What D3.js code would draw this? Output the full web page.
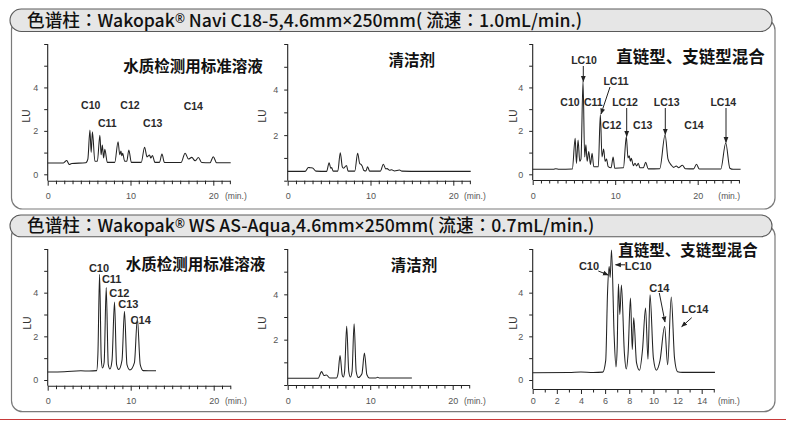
<!DOCTYPE html>
<html><head><meta charset="utf-8">
<script src="https://cdn.jsdelivr.net/npm/d3@7"></script>
<style>body{margin:0;background:#fff} svg{display:block}</style>
</head><body>
<svg id="c" width="786" height="422"></svg>
<script>
// ---------------- DATA ----------------
const headerTopText = "色谱柱：Wakopak® Navi C18-5,4.6mm×250mm( 流速：1.0mL/min.)";
const headerBottomText = "色谱柱：Wakopak® WS AS-Aqua,4.6mm×250mm( 流速：0.7mL/min.)";
const sampleTitles = ["水质检测用标准溶液", "清洁剂", "直链型、支链型混合"];
const yAxisTitle = "LU";
const xUnit = "(min.)";
const yTickLabels = [0, 2, 4];
const yTickLabelsNoZero = [2, 4];
const xTickLabels20 = [0, 10, 20];
const xTickLabels14 = [0, 2, 4, 6, 8, 10, 12, 14];

// chromatogram traces: [time (min), signal (LU)]
const naviStandard = [[0,0.52],[1.9,0.52],[2.3,0.64],[2.6,0.45],[2.9,0.5],[4.6,0.53],[4.85,0.7],[5.1,2.04],[5.25,1.0],[5.4,1.96],[5.7,0.6],[6.0,0.6],[6.3,1.8],[6.45,0.9],[6.6,1.35],[6.75,0.75],[6.9,1.15],[7.2,0.55],[8.1,0.55],[8.5,1.5],[8.7,0.9],[8.85,1.07],[8.95,0.85],[9.05,0.97],[9.3,0.6],[9.55,0.6],[9.8,1.12],[10.1,0.55],[11.3,0.55],[11.7,1.25],[12.0,0.8],[12.3,0.89],[12.45,0.75],[12.65,0.87],[12.95,0.55],[13.5,0.55],[13.8,0.93],[14.1,0.54],[16.1,0.54],[16.6,0.97],[17.0,0.7],[17.4,0.78],[17.8,0.62],[18.2,0.77],[18.6,0.54],[19.6,0.53],[20.0,0.81],[20.4,0.53],[22.1,0.53]];
const naviDetergent = [[0,0.41],[2.1,0.41],[2.5,0.58],[2.7,0.57],[3.0,0.56],[3.4,0.42],[4.7,0.41],[5.0,0.79],[5.2,0.55],[5.3,0.58],[5.5,0.42],[6.05,0.42],[6.35,1.23],[6.6,0.6],[6.75,0.55],[7.1,0.67],[7.3,0.42],[8.1,0.42],[8.45,1.2],[8.7,0.75],[8.85,0.72],[9.0,0.64],[9.2,0.45],[9.45,0.43],[9.65,0.61],[9.9,0.42],[11.2,0.42],[11.55,0.72],[11.85,0.52],[12.0,0.53],[12.3,0.46],[12.55,0.48],[12.9,0.43],[13.5,0.47],[13.8,0.42],[16,0.41],[22.1,0.41]];
const naviMixed = [[0,0.23],[2.5,0.23],[2.8,0.26],[3.2,0.23],[4.8,0.24],[5.15,1.66],[5.3,0.5],[5.5,1.58],[5.7,0.6],[5.85,0.7],[6.1,4.28],[6.3,0.8],[6.45,1.36],[6.6,0.6],[6.8,1.05],[7.0,0.45],[7.2,0.97],[7.4,0.35],[7.95,0.35],[8.2,2.75],[8.4,0.8],[8.6,1.16],[8.78,0.6],[8.95,0.7],[9.15,0.35],[9.5,0.3],[9.75,0.79],[9.95,0.28],[11.0,0.3],[11.35,1.74],[11.55,0.75],[11.7,0.85],[11.85,0.6],[11.95,0.74],[12.2,0.4],[12.4,0.51],[12.6,0.38],[12.8,0.51],[13.0,0.3],[13.4,0.3],[13.7,0.55],[14.0,0.25],[15.4,0.26],[16.05,1.82],[16.4,0.7],[16.8,0.42],[17.1,0.32],[17.4,0.38],[17.7,0.3],[18.15,0.42],[18.5,0.26],[19.5,0.25],[19.85,0.46],[20.2,0.24],[22.8,0.24],[23.4,1.44],[23.9,0.28],[24.3,0.23],[25.2,0.23]];
const aquaStandard = [[0,0.37],[2,0.38],[4,0.42],[5,0.41],[5.9,0.43],[6.05,1.2],[6.25,4.84],[6.45,1.0],[6.6,0.55],[6.8,0.8],[7.05,4.23],[7.3,0.7],[7.5,0.5],[7.75,0.9],[8.05,3.57],[8.3,0.7],[8.55,0.48],[8.95,0.9],[9.25,3.15],[9.55,0.7],[9.9,0.46],[10.45,0.8],[10.8,2.82],[11.15,0.7],[11.5,0.43],[13.05,0.42]];
const aquaDetergent = [[0,0.3],[3.7,0.3],[4.1,0.59],[4.4,0.42],[4.7,0.44],[5.1,0.31],[5.9,0.31],[6.1,0.5],[6.35,1.3],[6.6,0.45],[6.75,0.35],[6.9,0.6],[7.15,2.59],[7.4,0.6],[7.6,0.35],[7.8,0.6],[8.05,2.7],[8.3,0.6],[8.55,0.33],[9.0,0.5],[9.3,1.41],[9.6,0.45],[9.9,0.31],[10.7,0.31],[10.9,0.34],[11.1,0.31],[15.05,0.31]];
const aquaMixed = [[0,0.33],[3,0.34],[4,0.37],[5,0.34],[5.8,0.36],[6.05,0.9],[6.2,4.0],[6.33,5.2],[6.42,4.7],[6.53,5.95],[6.75,2.0],[6.9,0.6],[7.0,1.5],[7.1,4.4],[7.22,3.0],[7.35,4.35],[7.6,1.2],[7.75,0.5],[7.9,1.2],[8.1,3.75],[8.25,1.4],[8.37,2.85],[8.6,0.8],[8.85,0.45],[9.1,1.4],[9.35,3.3],[9.55,0.95],[9.72,3.9],[10.0,1.0],[10.25,0.45],[10.55,0.9],[10.93,2.45],[11.18,0.7],[11.48,3.8],[11.75,1.0],[12.0,0.38],[12.4,0.35],[15.1,0.35]];

// peak label texts
const naviStdLabels = ["C10","C11","C12","C13","C14"];
const naviMixLabels = ["LC10","LC11","C10","C11","LC12","LC13","LC14","C12","C13","C14"];
const aquaStdLabels = ["C10","C11","C12","C13","C14"];
const aquaMixLabels = ["C10","LC10","C14","LC14"];

// ---------------- LAYOUT ----------------
const svg = d3.select("#c");
const CJK = "'Noto Sans CJK SC', 'Noto Sans CJK JP', sans-serif";
const ARIAL = "'Liberation Sans', Arial, sans-serif";

svg.append("defs").append("marker")
  .attr("id","ah").attr("viewBox","0 0 10 10").attr("refX",9).attr("refY",5)
  .attr("markerWidth",6).attr("markerHeight",6).attr("orient","auto-start-reverse")
  .attr("markerUnits","userSpaceOnUse")
  .append("path").attr("d","M0,1 L10,5 L0,9 Z").attr("fill","#222");

// frames
function frame(pillY, pillH, boxBottom, text) {
  svg.append("rect").attr("x",11.5).attr("y",pillY+10).attr("width",763.5)
    .attr("height",boxBottom-pillY-10).attr("rx",11)
    .attr("fill","#fff").attr("stroke","#7a7a7a").attr("stroke-width",1.2);
  svg.append("rect").attr("x",10).attr("y",pillY).attr("width",762).attr("height",pillH)
    .attr("rx",pillH/2).attr("fill","#e6e6e6").attr("stroke","#5a5a5a").attr("stroke-width",1.1);
  const t = svg.append("text").attr("x",27).attr("y",pillY+pillH/2)
    .attr("dy","0.36em").attr("font-family",CJK).attr("font-weight",500)
    .attr("font-size",17).attr("fill","#111");
  const parts = text.split(/(：|®|×)/);
  parts.forEach(p => {
    if (p === "®") t.append("tspan").attr("baseline-shift","35%").attr("font-size",12)
      .attr("font-family","'Noto Sans', sans-serif").text("®");
    else if (p === "：") t.append("tspan").attr("font-family","'Noto Sans CJK JP', sans-serif").text("：");
    else if (p === "×") t.append("tspan").attr("font-family","'Noto Sans', sans-serif").text("×");
    else t.append("tspan").text(p);
  });
  return t;
}
const h1 = frame(9, 22.5, 209, headerTopText);
const h2 = frame(215, 21.7, 411.7, headerBottomText);
// fit header text width to the reference
const w1 = h1.node().getComputedTextLength();
const fs = 17 * 556 / w1;
h1.attr("font-size", fs); h2.attr("font-size", fs);

svg.append("line").attr("x1",0).attr("x2",786).attr("y1",419.5).attr("y2",419.5)
  .attr("stroke","#c83a3a").attr("stroke-width",1.2);

const panels = [
  {trace: naviStandard, px0:47.7, k:8.28, xMax:22, py0:174.3, py6:44, axisY:180.7, xLabelY:196, yLabels:yTickLabels, xLabels:xTickLabels20, minX:225, luX:26.7, luY:116},
  {trace: naviDetergent, px0:287.7, k:8.28, xMax:22, py0:180.7, py6:44, axisY:180.7, xLabelY:196, yLabels:yTickLabelsNoZero, xLabels:xTickLabels20, minX:464, luX:262, luY:116},
  {trace: naviMixed, px0:532.7, k:8.25, xMax:25, py0:174.3, py6:44, axisY:180, xLabelY:196, yLabels:yTickLabels, xLabels:xTickLabels20, minX:718.3, luX:513, luY:116},
  {trace: aquaStandard, px0:47.7, k:8.3, xMax:22, py0:380, py6:249, axisY:385.7, xLabelY:401, yLabels:yTickLabels, xLabels:xTickLabels20, minX:225, luX:27, luY:323},
  {trace: aquaDetergent, px0:287.7, k:8.25, xMax:22, py0:385, py6:249, axisY:385, xLabelY:401, yLabels:yTickLabelsNoZero, xLabels:xTickLabels20, minX:464, luX:262, luY:323},
  {trace: aquaMixed, px0:532.7, k:12.07, xMax:15, py0:380, py6:249, axisY:389, xLabelY:401, yLabels:yTickLabels, xLabels:xTickLabels14, minX:718, luX:513, luY:323}
];

panels.forEach(p => {
  const x = d3.scaleLinear().domain([0, p.xMax]).range([p.px0, p.px0 + p.k * p.xMax]);
  const y = d3.scaleLinear().domain([0, 6]).range([p.py0, p.py6]);
  const g = svg.append("g");

  // x axis
  const xa = g.append("g").attr("transform",`translate(0,${p.axisY})`)
    .call(d3.axisBottom(x).tickValues(d3.range(0, p.xMax + 0.001, 1))
      .tickSize(3.5).tickSizeOuter(0)
      .tickPadding(p.xLabelY - p.axisY - 3.5 - 3.4)
      .tickFormat(d => p.xLabels.includes(d) ? d : ""));
  xa.select(".domain").attr("stroke","#222").attr("stroke-width",1.1);
  xa.selectAll(".tick line").attr("stroke","#222").attr("stroke-width",1)
    .filter(d => p.xLabels.includes(d)).attr("y2",5);
  xa.selectAll(".tick text").attr("font-family",ARIAL).attr("font-size",9).attr("fill","#555");

  // y axis
  const ya = g.append("g").attr("transform",`translate(${p.px0},0)`)
    .call(d3.axisLeft(y).tickValues(d3.range(0, 7, 1)).tickSize(3.5).tickPadding(6)
      .tickFormat(d => p.yLabels.includes(d) ? d : ""));
  ya.select(".domain").remove();
  ya.selectAll(".tick line").attr("stroke","#222").attr("stroke-width",1);
  ya.selectAll(".tick text").attr("font-family",ARIAL).attr("font-size",9).attr("fill","#555");
  g.append("line").attr("x1",p.px0).attr("x2",p.px0).attr("y1",y(6)).attr("y2",p.axisY)
    .attr("stroke","#222").attr("stroke-width",1.1);

  g.append("text").attr("transform",`translate(${p.luX},${p.luY}) rotate(-90)`)
    .attr("text-anchor","middle").attr("dy","0.35em")
    .attr("font-family",ARIAL).attr("font-size",10).attr("fill","#333").text(yAxisTitle);
  g.append("text").attr("x",p.minX).attr("y",p.xLabelY).attr("dy","0.35em")
    .attr("font-family",ARIAL).attr("font-size",8.5).attr("fill","#555").text(xUnit);

  const line = d3.line().x(d => x(d[0])).y(d => y(d[1])).curve(d3.curveMonotoneX);
  g.append("path").datum(p.trace).attr("d",line).attr("fill","none")
    .attr("stroke","#222").attr("stroke-width",1.05).attr("stroke-linejoin","round");
});

// ---------------- ANNOTATIONS ----------------
function title(txt, cx, cy, size) {
  svg.append("text").attr("x",cx).attr("y",cy).attr("dy","0.36em").attr("text-anchor","middle")
    .attr("font-family",CJK).attr("font-weight","bold").attr("font-size",size).attr("fill","#111").text(txt);
}
title(sampleTitles[0], 193, 66.7, 15.5);
title(sampleTitles[1], 411.7, 60, 15.5);
title(sampleTitles[2], 690.5, 56.7, 16.5);
title(sampleTitles[0], 195.5, 264.3, 15.5);
title(sampleTitles[1], 414, 265.7, 15.5);
title(sampleTitles[2], 688, 250, 15.5);

function labels(list, pos, size) {
  list.forEach((t, i) => {
    svg.append("text").attr("x",pos[i][0]).attr("y",pos[i][1]).attr("dy","0.36em")
      .attr("text-anchor","middle").attr("font-family",ARIAL).attr("font-weight","bold")
      .attr("font-size",size).attr("fill","#2a2a2a").text(t);
  });
}
labels(naviStdLabels, [[90.7,105],[107.3,123.3],[130,105],[152.7,123.3],[193.3,106]], 10.5);
labels(naviMixLabels, [[584,60],[616,81.7],[570,102.7],[593.3,102.7],[625,102.7],[666.7,102.7],[723.3,102.7],[611.7,125],[642.7,125],[694,125]], 10.5);
labels(aquaStdLabels, [[99,267.7],[111.7,279.3],[119.3,293.3],[128.3,304.3],[140.7,320]], 11);
labels(aquaMixLabels, [[589,265.7],[638.3,265.7],[659.3,287.7],[695,309]], 11);

function arrow(x1,y1,x2,y2) {
  svg.append("line").attr("x1",x1).attr("y1",y1).attr("x2",x2).attr("y2",y2)
    .attr("stroke","#222").attr("stroke-width",1).attr("marker-end","url(#ah)");
}
arrow(583.3,66,583.3,81.5);
arrow(610,87,601,114);
arrow(626.7,108,626.7,136.5);
arrow(665.3,108,665.3,134.5);
arrow(726,108,726,142.5);
arrow(598.3,271,608.3,275);
arrow(625,264.8,615.5,264.8);
arrow(659.3,293,665,322);
arrow(691.7,317.7,681.7,326.7);
</script>
</body></html>
